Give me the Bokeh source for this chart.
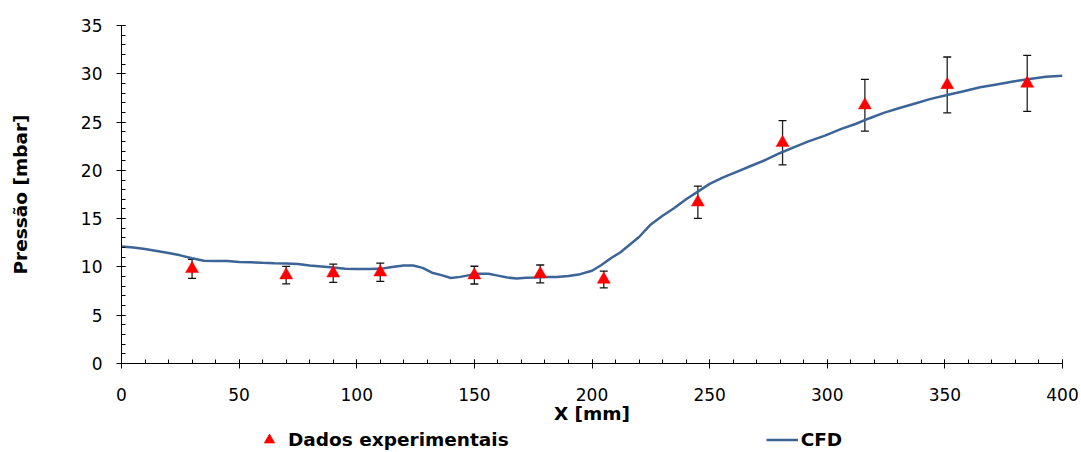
from bokeh.plotting import figure
from bokeh.layouts import column
from bokeh.models import (ColumnDataSource, Range1d, SingleIntervalTicker, Whisker,
                          TeeHead, Legend, LegendItem)
from bokeh.embed import file_html
from bokeh.resources import INLINE

# CFD simulation curve
cfd_x = [0, 5, 10, 15, 20, 25, 30, 33, 35, 40, 45, 50, 55, 60, 65, 70, 75, 80, 85, 90,
         95, 100, 105, 110, 115, 120, 124, 128, 132, 136, 140, 144, 148, 152, 156, 160,
         164, 168, 172, 176, 180, 185, 190, 195, 200, 204, 208, 212, 216, 220, 225, 230,
         235, 240, 245, 250, 256, 262, 268, 274, 280, 286, 292, 299, 306, 312, 318, 324,
         330, 337, 344, 351, 358, 365, 372, 379, 386, 393, 400]
cfd_y = [12.12, 12.0, 11.85, 11.65, 11.45, 11.2, 10.9, 10.75, 10.65, 10.62, 10.62, 10.5,
         10.48, 10.42, 10.38, 10.35, 10.3, 10.15, 10.05, 9.95, 9.8, 9.78, 9.78, 9.8, 10.0,
         10.15, 10.15, 9.9, 9.4, 9.15, 8.85, 8.97, 9.15, 9.3, 9.3, 9.1, 8.9, 8.8, 8.88,
         8.9, 8.95, 8.95, 9.05, 9.25, 9.6, 10.2, 10.9, 11.5, 12.3, 13.1, 14.4, 15.3, 16.1,
         17.0, 17.8, 18.6, 19.3, 19.9, 20.5, 21.1, 21.8, 22.4, 23.0, 23.6, 24.3, 24.8,
         25.4, 25.95, 26.4, 26.9, 27.4, 27.8, 28.2, 28.6, 28.9, 29.2, 29.45, 29.7, 29.8]

# Experimental data with error bars
exp_x = [30, 70, 90, 110, 150, 178, 205, 245, 281, 316, 351, 385]
exp_y = [9.8, 9.15, 9.35, 9.45, 9.15, 9.27, 8.7, 16.7, 22.85, 26.75, 28.85, 29.0]
exp_err = [0.98, 0.91, 0.94, 0.95, 0.92, 0.93, 0.87, 1.67, 2.29, 2.68, 2.89, 2.9]

x_label = "X [mm]"
y_label = "Pressão [mbar]"
label_exp = "Dados experimentais"
label_cfd = "CFD"

FONT = "DejaVu Sans"
LINE_COLOR = "#3C6496"
MARK_COLOR = "#FF0000"

p = figure(width=1081, height=426, output_backend="svg", toolbar_location=None,
           x_range=Range1d(0, 400), y_range=Range1d(0, 35),
           min_border_left=121, min_border_right=19, min_border_top=25,
           min_border_bottom=62)
p.outline_line_color = None
p.grid.visible = False
p.background_fill_color = "white"
p.border_fill_color = "white"

exp_src = ColumnDataSource(dict(
    x=exp_x, y=exp_y,
    upper=[v + e for v, e in zip(exp_y, exp_err)],
    lower=[v - e for v, e in zip(exp_y, exp_err)],
))
cfd_src = ColumnDataSource(dict(x=cfd_x, y=cfd_y))

p.line("x", "y", source=cfd_src, line_color=LINE_COLOR, line_width=2.5)

whisker = Whisker(source=exp_src, base="x", upper="upper", lower="lower",
                  line_color="#222222", line_width=1.3,
                  upper_head=TeeHead(size=8, line_color="#111111", line_width=1.3),
                  lower_head=TeeHead(size=8, line_color="#111111", line_width=1.3))
p.add_layout(whisker)

p.scatter("x", "y", source=exp_src, marker="triangle", size=13,
          fill_color=MARK_COLOR, line_color=MARK_COLOR, line_width=0.5)

for ax in (p.xaxis[0], p.yaxis[0]):
    ax.axis_line_color = "black"
    ax.axis_line_width = 1
    ax.major_tick_line_color = "black"
    ax.minor_tick_line_color = "black"
    ax.major_tick_in = 4
    ax.major_tick_out = 5
    ax.minor_tick_in = 4
    ax.minor_tick_out = 0
    ax.major_label_text_font = FONT
    ax.major_label_text_font_size = "17px"
    ax.major_label_text_color = "black"
    ax.axis_label_text_font = FONT
    ax.axis_label_text_font_size = "18.5px"
    ax.axis_label_text_font_style = "bold"
    ax.axis_label_text_color = "black"

p.xaxis[0].ticker = SingleIntervalTicker(interval=50, num_minor_ticks=5)
p.yaxis[0].ticker = SingleIntervalTicker(interval=5, num_minor_ticks=5)
p.xaxis[0].axis_label = x_label
p.yaxis[0].axis_label = y_label
p.xaxis[0].major_label_standoff = 19
p.yaxis[0].major_label_standoff = 14
p.xaxis[0].axis_label_standoff = -1
p.yaxis[0].axis_label_standoff = 47

# Legend strip below the chart (its ranges keep the data out of view;
# the renderers only supply the legend glyph styles)
lf = figure(width=1081, height=26, output_backend="svg", toolbar_location=None,
            x_axis_type=None, y_axis_type=None, min_border=0,
            x_range=Range1d(-20, -10), y_range=Range1d(-20, -10))
lf.outline_line_color = None
lf.grid.visible = False
leg_exp = lf.scatter("x", "y", source=exp_src, marker="triangle",
                     fill_color=MARK_COLOR, line_color=MARK_COLOR)
leg_cfd = lf.line("x", "y", source=cfd_src, line_color=LINE_COLOR, line_width=2.5)

legend = Legend(items=[LegendItem(label=label_exp, renderers=[leg_exp]),
                       LegendItem(label=label_cfd, renderers=[leg_cfd])],
                orientation="horizontal", location=(132, 0),
                glyph_width=32, glyph_height=25, label_standoff=3, spacing=257,
                padding=0, margin=0, border_line_color=None,
                background_fill_alpha=0,
                label_text_font=FONT, label_text_font_size="18.5px",
                label_text_font_style="bold", label_text_color="black")
lf.add_layout(legend, "center")

open("out.html", "w").write(file_html(column(p, lf, spacing=0), INLINE))
